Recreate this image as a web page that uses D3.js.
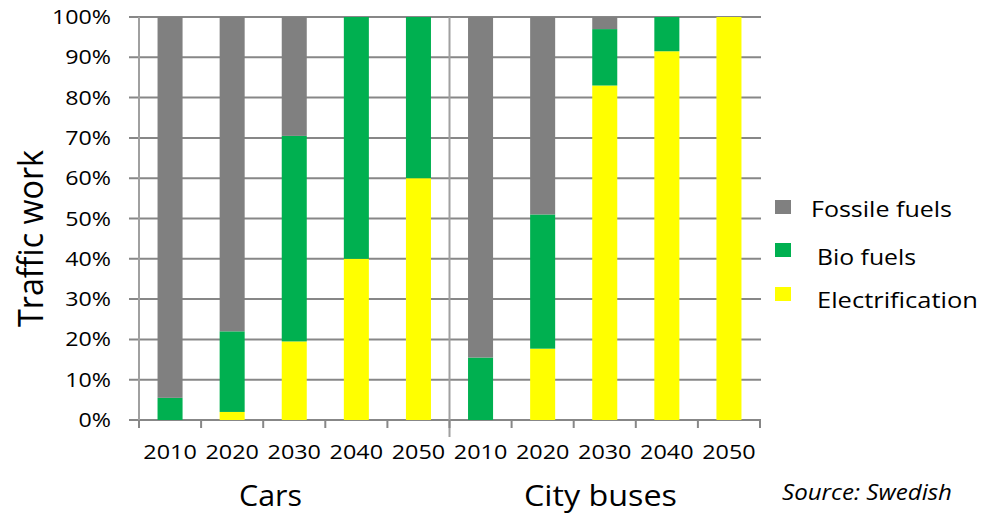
<!DOCTYPE html>
<html>
<head>
<meta charset="utf-8">
<script src="https://cdn.jsdelivr.net/npm/d3@7"></script>
<style>
  html, body { margin: 0; padding: 0; background: #fff; }
  svg { display: block; }
  text { font-family: "Open Sans", sans-serif; fill: #000; }
</style>
</head>
<body>
<svg id="chart" width="993" height="515"></svg>
<script>
// ---- data ----
const groups = ["Cars", "City buses"];
const years = ["2010", "2020", "2030", "2040", "2050"];
const seriesNames = ["Electrification", "Bio fuels", "Fossile fuels"];
const carsElectrification = [0, 2, 19.5, 40, 60];
const carsBio = [5.5, 20, 51, 60, 40];
const carsFossil = [94.5, 78, 29.5, 0, 0];
const busElectrification = [0, 17.7, 83, 91.5, 100];
const busBio = [15.5, 33.3, 14, 8.5, 0];
const busFossil = [84.5, 49, 3, 0, 0];
const yTicks = [0, 10, 20, 30, 40, 50, 60, 70, 80, 90, 100];
const colors = { "Fossile fuels": "#808080", "Bio fuels": "#00B050", "Electrification": "#FFFF00" };
const legendOrder = ["Fossile fuels", "Bio fuels", "Electrification"];

// ---- build table ----
const rows = [];
years.forEach((y, i) => rows.push({ key: "Cars|" + y, year: y,
  "Electrification": carsElectrification[i], "Bio fuels": carsBio[i], "Fossile fuels": carsFossil[i] }));
years.forEach((y, i) => rows.push({ key: "City buses|" + y, year: y,
  "Electrification": busElectrification[i], "Bio fuels": busBio[i], "Fossile fuels": busFossil[i] }));

const svg = d3.select("#chart");
const x0 = 139, x1 = 760, yTop = 17, yBot = 420;

const x = d3.scaleBand().domain(rows.map(d => d.key)).range([x0, x1])
  .paddingInner(0.597).paddingOuter(0.2985);
const y = d3.scaleLinear().domain([0, 100]).range([yBot, yTop]);

function stretch(sel, k) {
  sel.each(function () {
    const w = this.getComputedTextLength();
    d3.select(this).attr("textLength", w * k).attr("lengthAdjust", "spacingAndGlyphs");
  });
}
function fit(sel, len) {
  sel.attr("textLength", len).attr("lengthAdjust", "spacingAndGlyphs");
}

// horizontal gridlines (with ticks extending left)
svg.append("g").selectAll("line").data(yTicks).join("line")
  .attr("x1", x0 - 10).attr("x2", x1 + 1)
  .attr("y1", d => y(d)).attr("y2", d => y(d))
  .attr("stroke", "#878787").attr("stroke-width", 2);

// vertical lines: y axis and group divider
svg.append("line").attr("x1", x0).attr("x2", x0).attr("y1", yTop).attr("y2", yBot + 8)
  .attr("stroke", "#a0a0a0").attr("stroke-width", 2);
const mid = x("City buses|2010") - x.step() * x.paddingOuter();
svg.append("line").attr("x1", mid).attr("x2", mid).attr("y1", yTop).attr("y2", yBot + 17)
  .attr("stroke", "#a0a0a0").attr("stroke-width", 2);

// category ticks
const tickPos = rows.map(d => x(d.key) - x.step() * x.paddingOuter()).concat([x1]);
svg.append("g").selectAll("line").data(tickPos).join("line")
  .attr("x1", d => d).attr("x2", d => d).attr("y1", yBot).attr("y2", yBot + 8)
  .attr("stroke", "#878787").attr("stroke-width", 2);

// bars
const stack = d3.stack().keys(seriesNames)(rows);
svg.append("g").selectAll("g").data(stack).join("g")
  .attr("fill", d => colors[d.key])
  .selectAll("rect").data(d => d).join("rect")
  .attr("x", d => x(d.data.key))
  .attr("width", x.bandwidth())
  .attr("y", d => y(d[1]))
  .attr("height", d => y(d[0]) - y(d[1]));

// y tick labels
const yl = svg.append("g").selectAll("text").data(yTicks).join("text")
  .attr("x", 111).attr("y", d => y(d) + 7)
  .attr("text-anchor", "end").attr("font-size", 19.5)
  .text(d => d + "%");
stretch(yl, 1.19);

// x tick labels
const xl = svg.append("g").selectAll("text").data(rows).join("text")
  .attr("x", d => x(d.key) + x.bandwidth() / 2).attr("y", 459)
  .attr("text-anchor", "middle").attr("font-size", 20.5)
  .text(d => d.year);
stretch(xl, 1.14);

// group labels
const groupLen = [63, 153];
const gl = svg.append("g").selectAll("text").data(groups).join("text")
  .attr("x", (d, i) => i === 0 ? 270.5 : 600.5).attr("y", 506)
  .attr("text-anchor", "middle").attr("font-size", 30)
  .attr("textLength", (d, i) => groupLen[i]).attr("lengthAdjust", "spacingAndGlyphs")
  .text(d => d);

// y axis title
const yt = svg.append("text")
  .attr("transform", "translate(43,238.5) rotate(-90)")
  .attr("text-anchor", "middle").attr("font-size", 34)
  .text("Traffic work");
fit(yt, 177);

// legend
const legendY = [200, 243, 287];
const legendBase = [217, 265, 308];
const legendTx = [811, 817, 817];
const legendLen = [141, 99, 161];
const lg = svg.append("g").selectAll("g").data(legendOrder).join("g");
lg.append("rect").attr("x", 775).attr("y", (d, i) => legendY[i])
  .attr("width", 16).attr("height", 14).attr("fill", d => colors[d]);
lg.append("text").attr("x", (d, i) => legendTx[i]).attr("y", (d, i) => legendBase[i])
  .attr("font-size", 21.5)
  .attr("textLength", (d, i) => legendLen[i]).attr("lengthAdjust", "spacingAndGlyphs")
  .text(d => d);

// source
const src = svg.append("text").attr("x", 782).attr("y", 500)
  .attr("font-size", 21).attr("font-style", "italic").text("Source: Swedish");
fit(src, 170);
</script>
</body>
</html>
